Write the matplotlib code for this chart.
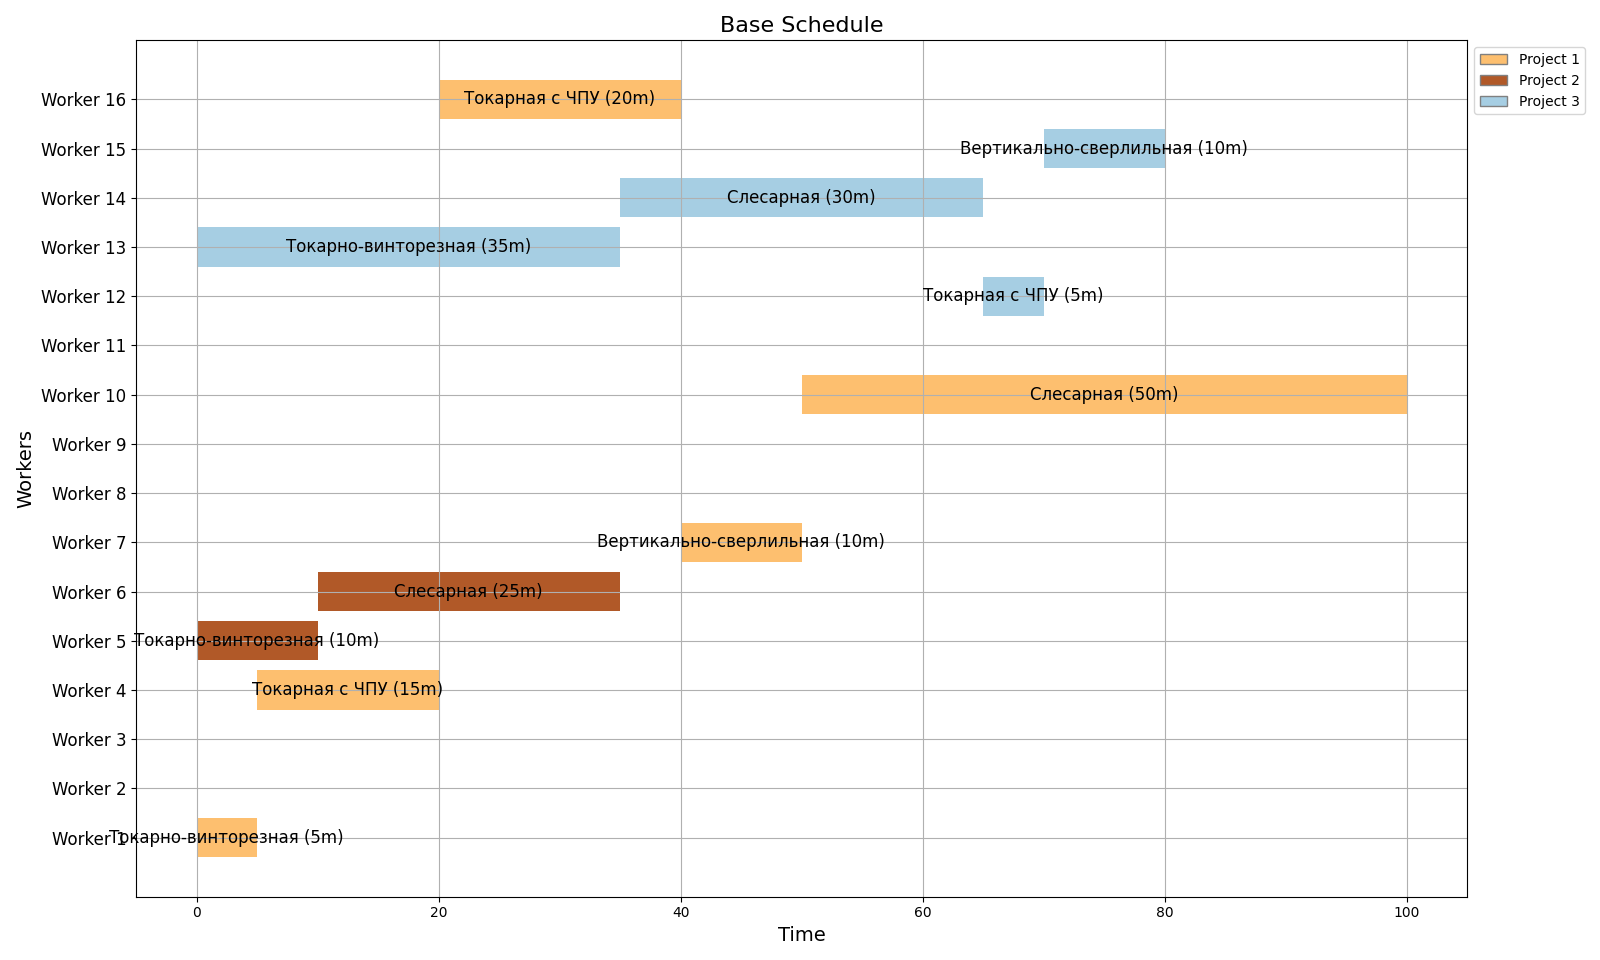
import matplotlib.pyplot as plt
from matplotlib.patches import Patch

# данные расписания
workers = [f"Worker {i}" for i in range(1, 17)]
projects = ["Project 1", "Project 2", "Project 3"]
colors = ["#fdbf6f", "#b15928", "#a6cee3"]

task_worker = [16, 10, 7, 4, 1, 6, 5, 15, 14, 13, 12]
task_project = [0, 0, 0, 0, 0, 1, 1, 2, 2, 2, 2]
task_start = [20, 50, 40, 5, 0, 10, 0, 70, 35, 0, 65]
task_duration = [20, 50, 10, 15, 5, 25, 10, 10, 30, 35, 5]
task_name = ["Токарная с ЧПУ", "Слесарная", "Вертикально-сверлильная",
             "Токарная с ЧПУ", "Токарно-винторезная", "Слесарная",
             "Токарно-винторезная", "Вертикально-сверлильная", "Слесарная",
             "Токарно-винторезная", "Токарная с ЧПУ"]

fig, ax = plt.subplots(figsize=(16, 9.6))

for w, p, s, d, n in zip(task_worker, task_project, task_start, task_duration, task_name):
    ax.barh(w, d, left=s, height=0.8, color=colors[p])
    ax.text(s + d / 2, w, f"{n} ({d}m)", ha="center", va="center", fontsize=12)

ax.set_yticks(range(1, len(workers) + 1))
ax.set_yticklabels(workers, fontsize=12)
ax.set_ylim(-0.2, 17.2)
ax.set_xlim(-5, 105)
ax.set_xlabel("Time", fontsize=14)
ax.set_ylabel("Workers", fontsize=14)
ax.set_title("Base Schedule", fontsize=16)
ax.grid(True)

handles = [Patch(facecolor=c, edgecolor="gray", label=p) for p, c in zip(projects, colors)]
ax.legend(handles=handles, loc="upper left", bbox_to_anchor=(1.0, 1.0))

plt.subplots_adjust(left=0.085, right=0.917, top=0.958, bottom=0.066)
plt.savefig("out.png", dpi=100)
